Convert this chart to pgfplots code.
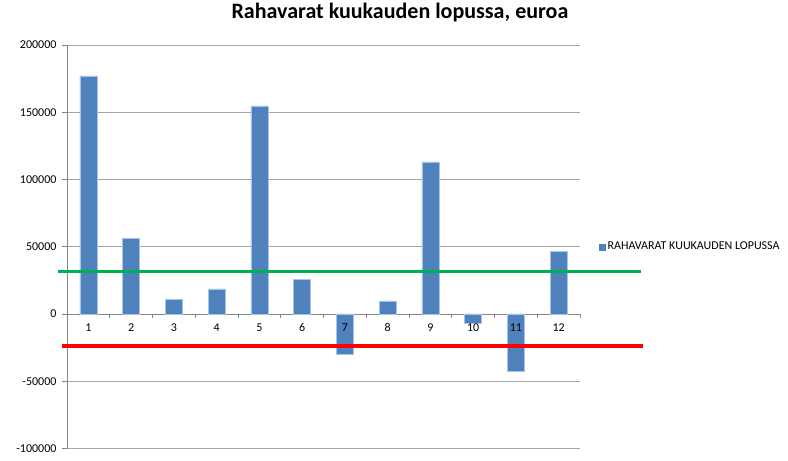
\documentclass[border=0pt]{standalone}
\usepackage{fontspec}
\setmainfont{Carlito}
\usepackage{pgfplots}
\pgfplotsset{compat=1.18}
\definecolor{barblue}{HTML}{4F81BD}
\definecolor{baredge}{HTML}{A9C4E6}
\definecolor{gridgray}{HTML}{A6A6A6}
\definecolor{axgray}{HTML}{868686}
\definecolor{xlgreen}{HTML}{00B050}
\definecolor{xlred}{HTML}{FF0000}
\begin{document}
\begin{tikzpicture}
\path[use as bounding box] (-67pt,-12.5pt) rectangle (721pt,448.5pt);
\begin{axis}[
  scale only axis,
  width=513pt, height=403.5pt,
  xmin=0.5, xmax=12.5,
  ymin=-100000, ymax=200000,
  axis x line=middle,
  axis y line=left,
  axis line style={-, draw=axgray, line width=0.8pt},
  xtick={1,...,12},
  xticklabels={},
  major x tick style={draw=none},
  minor xtick={0.5,1.5,...,12.5},
  minor x tick style={draw=axgray, line width=0.8pt},
  minor tick length=4pt,
  ytick={-100000,-50000,0,50000,100000,150000,200000},
  major tick length=5pt,
  tick align=outside,
  ytick style={draw=axgray, line width=0.8pt},
  ymajorgrids,
  grid style={gridgray, line width=0.8pt},
  scaled y ticks=false,
  /pgf/number format/assume math mode=true,
  yticklabel style={/pgf/number format/fixed, /pgf/number format/1000 sep={}, font=\fontsize{12}{14}\selectfont, xshift=-2pt},
  clip=false,
  title={Rahavarat kuukauden lopussa, euroa},
  title style={font=\fontsize{22}{26}\selectfont\bfseries, at={(rel axis cs:0.649,1.0496)}, anchor=base},
  legend style={at={(rel axis cs:1.037,0.5)}, anchor=west, draw=none, fill=none,
    font=\fontsize{12}{14}\selectfont, inner sep=0pt, row sep=0pt},
  legend cell align=left,
  legend image code/.code={\fill[barblue] (0pt,-3pt) rectangle (6pt,3pt);},
]
\addplot[ybar, bar width=17pt, fill=barblue, draw=baredge, line width=0.4pt] coordinates {
 (1,177000) (2,56500) (3,11100) (4,18600) (5,154800) (6,26000)
 (7,-30200) (8,9700) (9,113100) (10,-6900) (11,-42600) (12,46800)};
\addlegendentry{RAHAVARAT KUUKAUDEN LOPUSSA}
\addplot[forget plot, xlgreen, line width=3.3pt] coordinates {(0.296,31400) (13.93,31400)};
\addplot[forget plot, xlred, line width=3.3pt] coordinates {(0.376,-23800) (13.97,-23800)};
\end{axis}
\begin{axis}[
  scale only axis,
  width=513pt, height=403.5pt,
  xmin=0.5, xmax=12.5,
  ymin=-100000, ymax=200000,
  axis x line=middle,
  axis y line=none,
  axis line style={draw=none},
  xtick={1,...,12},
  major x tick style={draw=none},
  ytick=\empty,
  /pgf/number format/assume math mode=true,
  xticklabel style={font=\fontsize{12}{14}\selectfont, yshift=-4pt},
]
\end{axis}
\end{tikzpicture}
\end{document}
